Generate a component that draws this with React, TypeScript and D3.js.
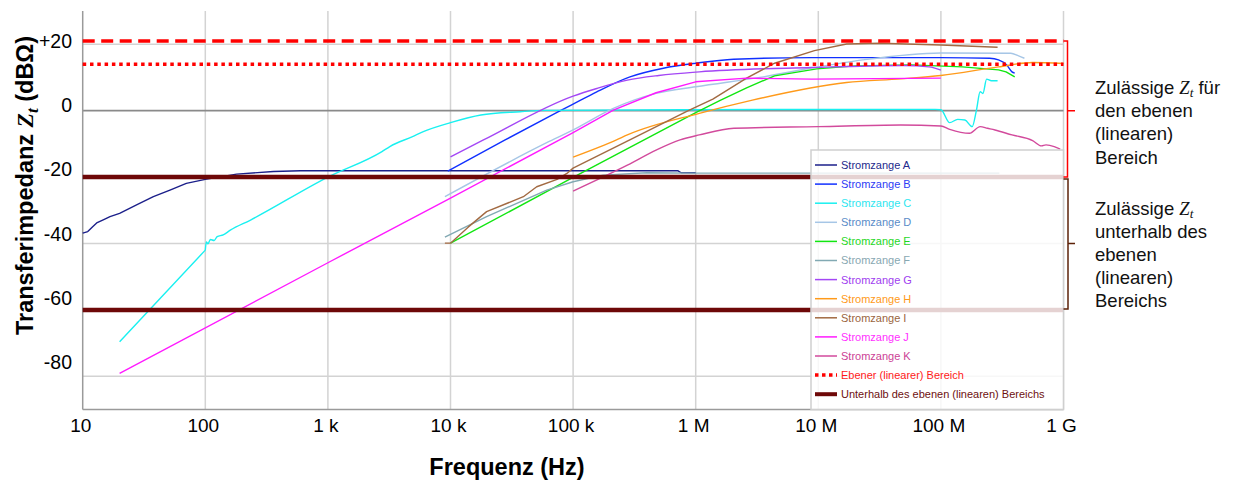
import React from "react";
import * as d3 from "d3";

type Pt = [number, number];

// Frequency (Hz), transfer impedance (dBΩ)
const stromzangeA: Pt[] = [[10,-36.9],[11,-36.4],[12,-35.0],[13,-33.8],[15,-32.7],[16.7,-31.9],[20,-30.9],[27.5,-28.4],[37.7,-25.9],[51.5,-23.9],[70,-21.9],[100,-20.7],[180,-19.1],[360,-18.3],[600,-18.1],[10e3,-18.1],[718e3,-18.1],[760e3,-18.7],[1e6,-18.7]];
const stromzangeB: Pt[] = [[9.5e3,-18.2],[27.9e3,-8.8],[78.7e3,0],[100e3,2.0],[156e3,5.7],[291e3,10.2],[545e3,12.8],[1e6,14.3],[2.04e6,15.5],[8.8e6,16.0],[100e6,16.0],[250e6,15.8],[295e6,15.3],[344e6,13.8],[380e6,11.7],[400e6,11.3]];
const stromzangeC: Pt[] = [[20,-69.6],[100,-42],[102,-39.5],[105,-40.1],[110,-38.8],[118,-39.1],[125,-37.9],[140,-37.4],[160,-36.0],[232,-33],[1e3,-20],[2.76e3,-12.3],[3.2e3,-10.8],[4.9e3,-7.8],[6e3,-6.3],[10e3,-3.6],[17.7e3,-1.3],[37e3,-0.3],[60e3,0.1],[1e6,0.3],[90e6,0.4],[100e6,0.3],[118e6,-3.6],[137e6,-2.6],[157e6,-2.8],[180e6,-4.8],[195e6,0.2],[209e6,5.7],[220e6,5.2],[236e6,9.5],[258e6,9.0],[290e6,9.0]];
const stromzangeD: Pt[] = [[9e3,-25.9],[64.5e3,-9.2],[100e3,-5.8],[213e3,0.7],[475e3,5.2],[1e6,7.2],[3.56e6,10.2],[9.3e6,13.0],[23e6,15.3],[100e6,17.4],[372e6,17.3],[430e6,16.5],[480e6,15.8]];
const stromzangeE: Pt[] = [[10e3,-39.9],[100e3,-20.1],[1e6,-0.6],[1.6e6,3.2],[2.6e6,6.9],[4.4e6,10.5],[9.7e6,12.6],[20e6,13.5],[57e6,13.8],[150e6,13.2],[295e6,12.3],[340e6,11.7],[400e6,10.2]];
const stromzangeF: Pt[] = [[9e3,-38.1],[19.7e3,-31.9],[61e3,-23.9],[100e3,-21.4],[176e3,-19.4],[400e3,-18.7],[1e6,-18.8],[300e6,-18.8]];
const stromzangeG: Pt[] = [[10e3,-13.9],[18.4e3,-8.9],[100e3,4.4],[156e3,6.7],[277e3,9.2],[500e3,10.6],[1.07e6,11.7],[8.8e6,13.0],[50e6,13.6],[80e6,13.2],[100e6,12.2]];
const stromzangeH: Pt[] = [[100e3,-14.0],[226e3,-8.8],[277e3,-7.3],[1.07e6,-0.8],[2.9e6,3.2],[17e6,8.5],[47e6,9.6],[100e6,10.6],[295e6,13.2],[560e6,14.5],[1e9,14.2]];
const stromzangeI: Pt[] = [[9e3,-39.9],[10e3,-39.9],[14e3,-35],[19.7e3,-30.4],[39.3e3,-25.9],[50.5e3,-22.9],[74e3,-20.7],[89e3,-18.9],[100e3,-17.3],[290e3,-8.8],[870e3,0],[1.38e6,3.5],[2.6e6,9.8],[4.4e6,14.3],[9.3e6,18.1],[17e6,20.1],[32e6,20.3],[100e6,19.8],[290e6,19.1]];
const stromzangeJ: Pt[] = [[20,-79.1],[1e3,-45.8],[10e3,-26.3],[100e3,-6.6],[213e3,0.2],[475e3,5.4],[1e6,8.7],[2.6e6,9.8],[8.8e6,9.5],[100e6,9.8]];
const stromzangeK: Pt[] = [[100e3,-24.2],[277e3,-16.4],[480e3,-11.8],[745e3,-8.8],[1.07e6,-7.3],[2.05e6,-5.3],[10e6,-4.8],[47e6,-4.3],[100e6,-4.6],[118e6,-5.6],[171e6,-6.8],[209e6,-4.8],[240e6,-5.3],[276e6,-5.8],[380e6,-7.3],[560e6,-9.0],[660e6,-10.6],[720e6,-10.3],[840e6,-10.8],[940e6,-11.6]];

const seriesNames = ["Stromzange A","Stromzange B","Stromzange C","Stromzange D","Stromzange E","Stromzange F","Stromzange G","Stromzange H","Stromzange I","Stromzange J","Stromzange K"];
const seriesData = [stromzangeA,stromzangeB,stromzangeC,stromzangeD,stromzangeE,stromzangeF,stromzangeG,stromzangeH,stromzangeI,stromzangeJ,stromzangeK];
// number of leading points drawn with straight segments (rest drawn smooth)
const straightPoints = [99,0,2,0,99,99,0,0,99,99,0];
const lineColors = ["#1B1F8A","#1030FF","#19F0F0","#A6C6E6","#11E611","#82A9B3","#A447F5","#FF9A1A","#A26A42","#FF1AFF","#D24A9C"];
const textColors = ["#232A8C","#2D3CF5","#2EE6F0","#5A8CC8","#1FD81F","#88A8B2","#A040F0","#FF9A20","#9A6440","#FF30FF","#CC3F96"];

const upperLimit = 21; // dashed red
const flatLimit = 14; // dotted red "Ebener (linearer) Bereich"
const belowLimits = [-20, -60]; // dark red
const flatLegend = "Ebener (linearer) Bereich";
const belowLegend = "Unterhalb des ebenen (linearen) Bereichs";

const xTickValues = [10,100,1e3,1e4,1e5,1e6,1e7,1e8,1e9];
const xTickLabels = ["10","100","1 k","10 k","100 k","1 M","10 M","100 M","1 G"];
const yTickValues = [20,0,-20,-40,-60,-80];
const yTickLabels = ["+20","0","-20","-40","-60","-80"];

const SANS = "'Liberation Sans', Arial, sans-serif";
const SERIF = "'Liberation Serif', 'Times New Roman', serif";

export default function App() {
  const x = d3.scaleLog().domain([10, 1e9]).range([82.7, 1063.5]);
  const y = d3.scaleLinear().domain([-90, 30]).range([409.5, 11.1]);
  const yLab = d3.scaleLinear().domain([-80, 20]).range([369, 48]);
  const lineSmooth = d3.line<Pt>().x(d => x(d[0])).y(d => y(d[1])).curve(d3.curveMonotoneX);
  const lineStraight = d3.line<Pt>().x(d => x(d[0])).y(d => y(d[1])).curve(d3.curveLinear);
  const left = x(10), right = x(1e9), top = y(30), bottom = y(-90);

  const seriesPath = (s: Pt[], n: number) => {
    if (n >= s.length) return lineStraight(s) || "";
    if (n <= 0) return lineSmooth(s) || "";
    return (lineStraight(s.slice(0, n)) || "") + (lineSmooth(s.slice(n - 1)) || "");
  };

  const legX = 811, legY = 150, legW = right - 811, legH = bottom - 150;
  const legItemY = (i: number) => 165 + i * 19.1;

  const zt = (size: number) => (
    <>
      <tspan fontFamily={SERIF} fontStyle="italic">Z</tspan>
      <tspan fontFamily={SERIF} fontStyle="italic" fontSize={size * 0.72} dy={size * 0.2}>t</tspan>
    </>
  );

  return (
    <svg width={1237} height={481} style={{ position: "absolute", left: 0, top: 0, background: "#fff" }}>
      {/* vertical gridlines */}
      {xTickValues.slice(1).map((v, i) => (
        <line key={"vg" + i} x1={x(v)} x2={x(v)} y1={top} y2={bottom} stroke="#D3D3D3" strokeWidth={1.5} />
      ))}
      {/* horizontal gridlines */}
      {yTickValues.map((v, i) => (
        <line key={"hg" + i} x1={left} x2={right} y1={y(v)} y2={y(v)} stroke={v === 0 ? "#8A8A8A" : "#D3D3D3"} strokeWidth={v === 0 ? 1.8 : 1.5} />
      ))}
      {/* axes */}
      <line x1={left} x2={left} y1={top} y2={bottom} stroke="#9A9A9A" strokeWidth={1.5} />
      <line x1={left} x2={right} y1={bottom} y2={bottom} stroke="#9A9A9A" strokeWidth={1.5} />

      {/* data series */}
      {seriesData.map((s, i) => (
        <path key={"s" + i} d={seriesPath(s, straightPoints[i])} fill="none" stroke={lineColors[i]} strokeWidth={1.4} strokeLinejoin="round" />
      ))}

      {/* reference lines */}
      {belowLimits.map((v, i) => (
        <line key={"bl" + i} x1={left} x2={right} y1={y(v)} y2={y(v)} stroke="#6E0808" strokeWidth={4.5} />
      ))}
      <line x1={left} x2={right} y1={y(flatLimit)} y2={y(flatLimit)} stroke="#FF0000" strokeWidth={3.5} strokeDasharray="3.5,3.8" />
      <line x1={left} x2={right} y1={y(upperLimit)} y2={y(upperLimit)} stroke="#FF0000" strokeWidth={3.5} strokeDasharray="12,6.5" />

      {/* legend */}
      <rect x={legX} y={legY} width={legW} height={legH} fill="#fff" fillOpacity={0.82} stroke="#CFCFCF" strokeWidth={1.5} />
      {seriesNames.map((n, i) => (
        <g key={"lg" + i}>
          <line x1={815} x2={837} y1={legItemY(i)} y2={legItemY(i)} stroke={lineColors[i]} strokeWidth={1.5} />
          <text x={841} y={legItemY(i)} dy="0.36em" fontFamily={SANS} fontSize={11} fill={textColors[i]}>{n}</text>
        </g>
      ))}
      <line x1={815} x2={837} y1={legItemY(11)} y2={legItemY(11)} stroke="#FF0000" strokeWidth={3.5} strokeDasharray="3.5,3.5" />
      <text x={841} y={legItemY(11)} dy="0.36em" fontFamily={SANS} fontSize={11} fill="#FF1A1A">{flatLegend}</text>
      <line x1={815} x2={837} y1={legItemY(12)} y2={legItemY(12)} stroke="#6E0808" strokeWidth={4} />
      <text x={841} y={legItemY(12)} dy="0.36em" fontFamily={SANS} fontSize={11} fill="#6E1010">{belowLegend}</text>

      {/* y tick labels */}
      {yTickValues.map((v, i) => (
        <text key={"yt" + i} x={72} y={yLab(v)} textAnchor="end" fontFamily={SANS} fontSize={19.5} fill="#000">{yTickLabels[i]}</text>
      ))}
      {/* x tick labels */}
      {xTickValues.map((v, i) => (
        <text key={"xt" + i} x={x(v) - 2} y={432} textAnchor="middle" fontFamily={SANS} fontSize={19} fill="#000">{xTickLabels[i]}</text>
      ))}

      {/* axis titles */}
      <text x={507} y={475} textAnchor="middle" fontFamily={SANS} fontWeight="bold" fontSize={23.5} fill="#000">Frequenz (Hz)</text>
      <text transform="translate(33,185.5) rotate(-90)" textAnchor="middle" fontFamily={SANS} fontWeight="bold" fontSize={23.5} fill="#000">
        <tspan>Transferimpedanz </tspan>
        <tspan fontFamily={SERIF} fontStyle="italic">Z</tspan>
        <tspan fontFamily={SERIF} fontStyle="italic" fontSize={17} dy={5}>t</tspan>
        <tspan dy={-5}> (dBΩ)</tspan>
      </text>

      {/* brackets */}
      <path d={`M${right},${y(upperLimit)} H1067.5 V${y(belowLimits[0])} H${right} M1067.5,${y(0)} H1075`} fill="none" stroke="#FF0000" strokeWidth={1.5} />
      <path d={`M${right},${y(belowLimits[0]) + 2} H1068 V${y(belowLimits[1]) - 1} H${right} M1068,${y(-40)} H1075`} fill="none" stroke="#5C2208" strokeWidth={1.5} />

      {/* annotations */}
      <g fontFamily={SANS} fontSize={18.5} fill="#111">
        <text x={1095} y={93.5}>Zulässige {zt(18.5)}<tspan dy={-3.7}> für</tspan></text>
        <text x={1095} y={117}>den ebenen</text>
        <text x={1095} y={140.3}>(linearen)</text>
        <text x={1095} y={163.5}>Bereich</text>
        <text x={1095} y={214.5}>Zulässige {zt(18.5)}</text>
        <text x={1095} y={237.5}>unterhalb des</text>
        <text x={1095} y={260.7}>ebenen</text>
        <text x={1095} y={284}>(linearen)</text>
        <text x={1095} y={307}>Bereichs</text>
      </g>
    </svg>
  );
}
